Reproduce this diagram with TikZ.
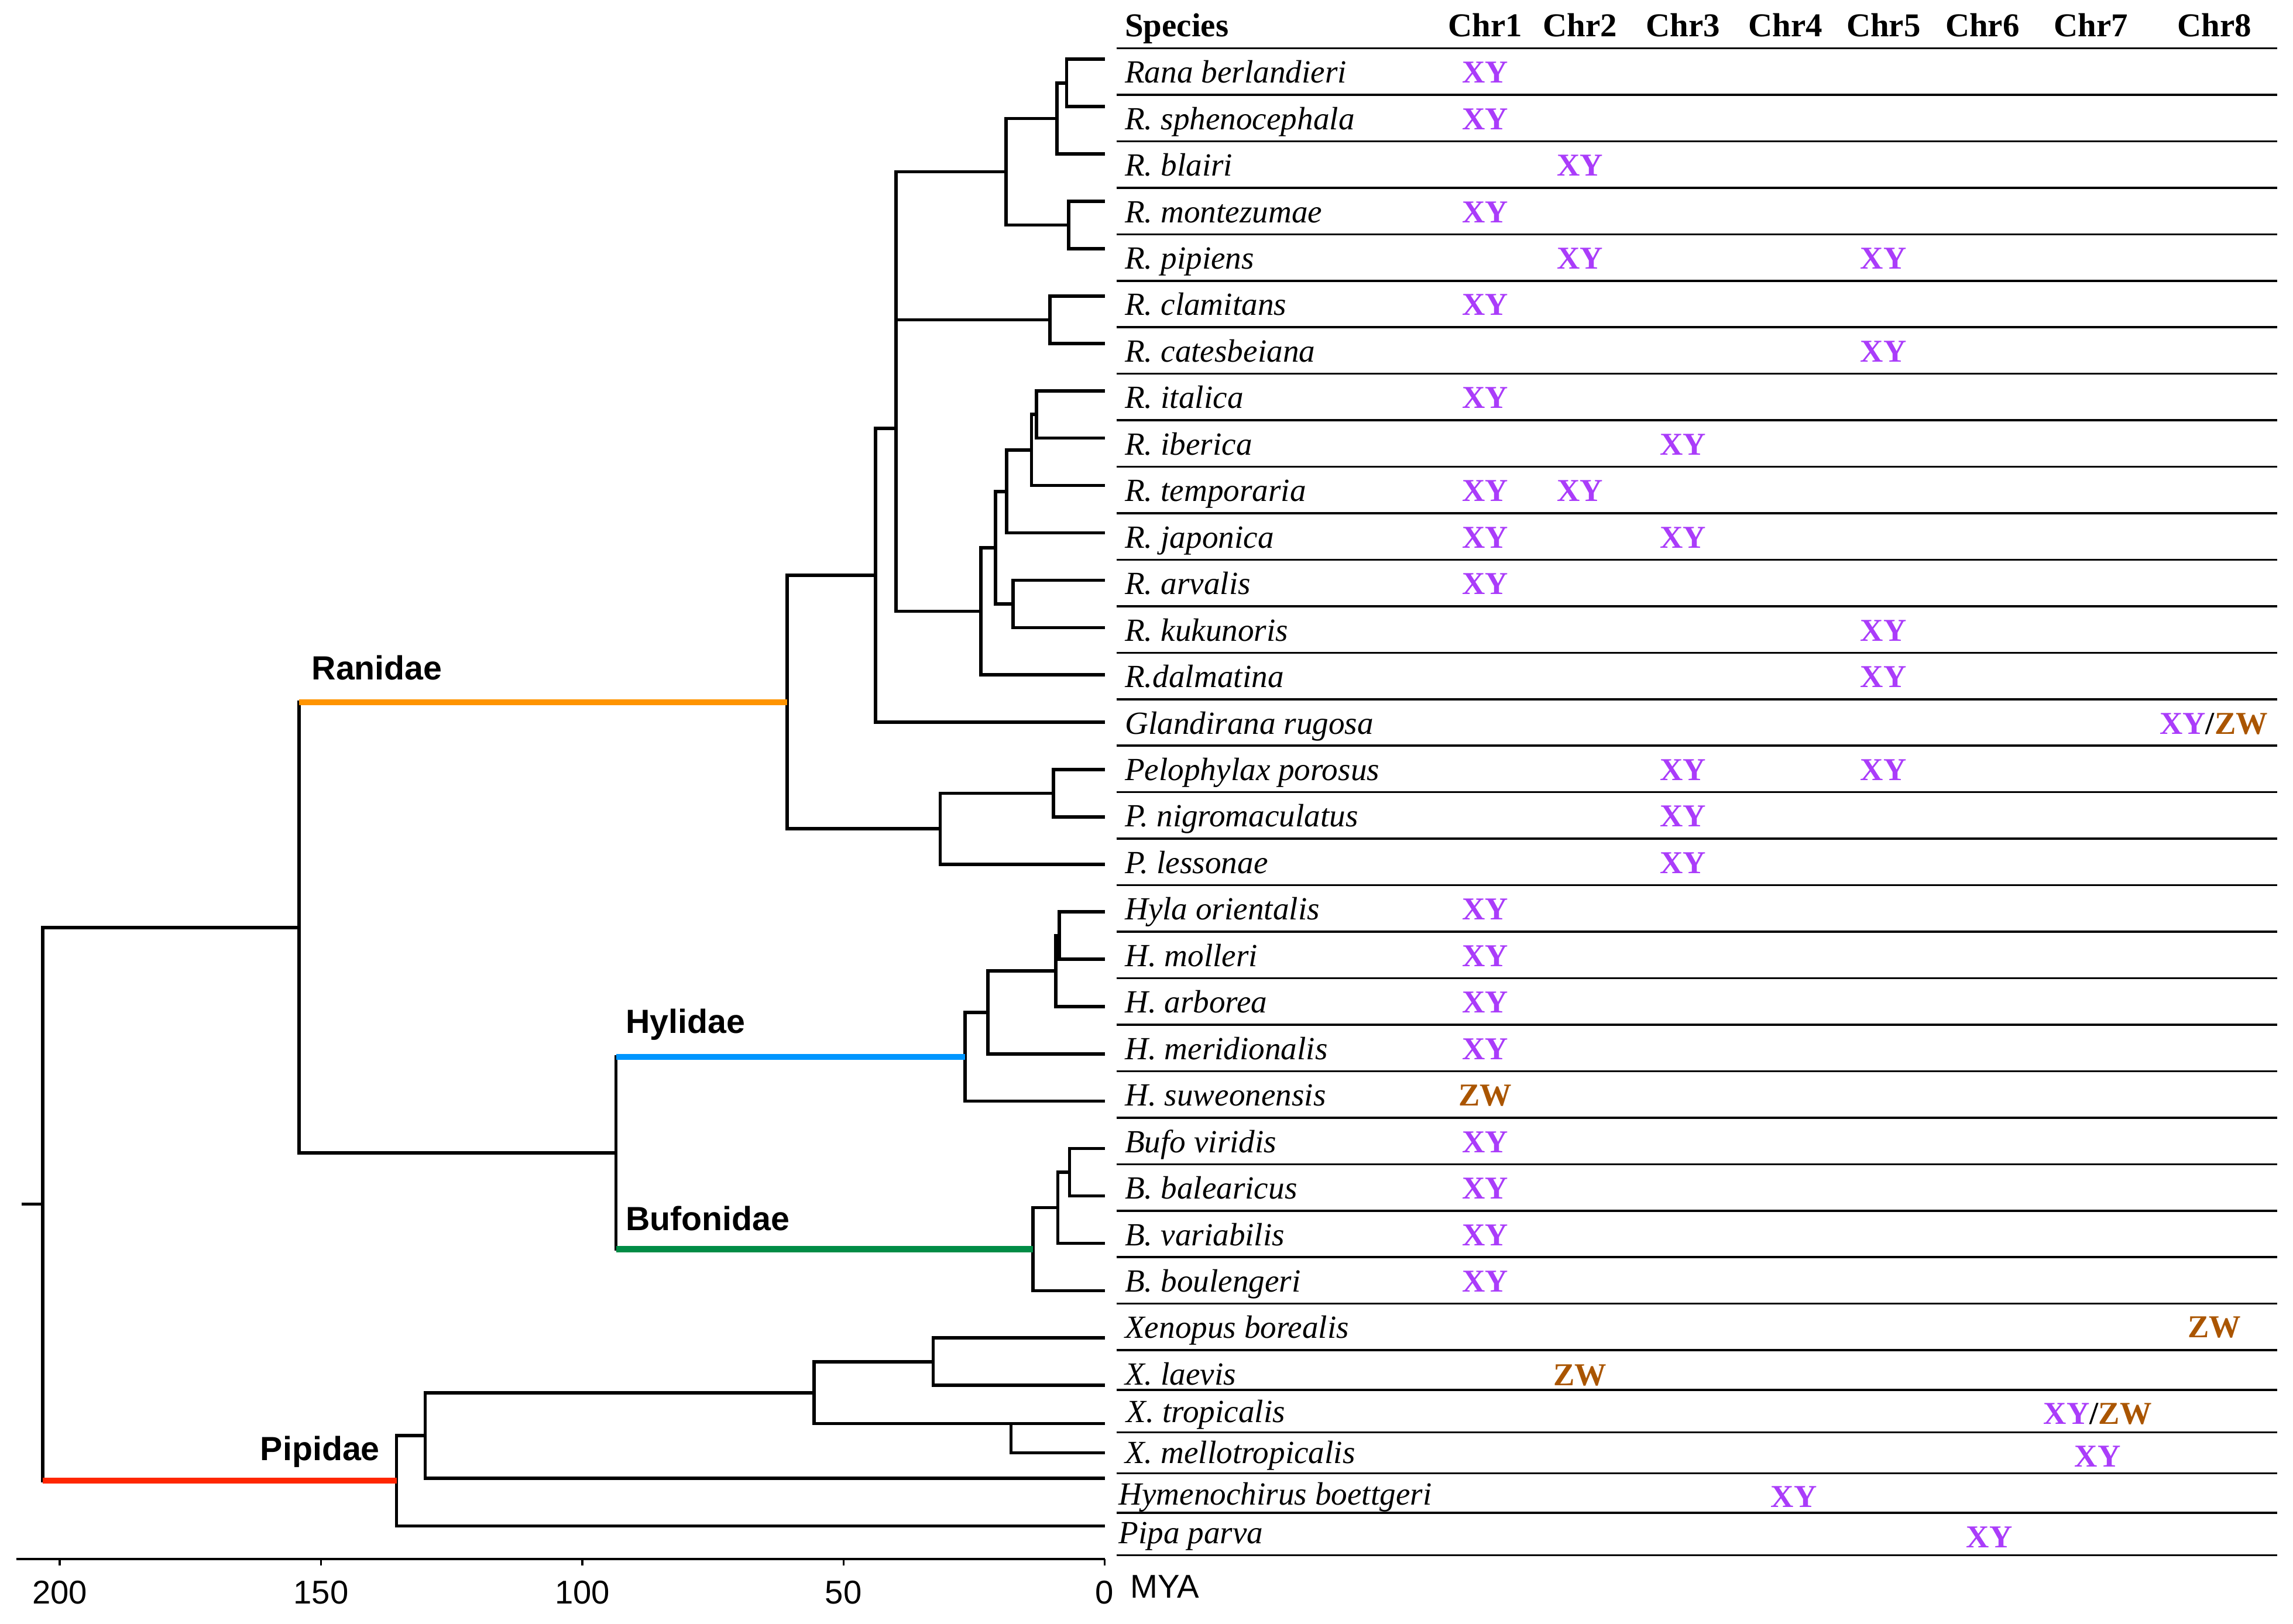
\documentclass[tikz,border=0pt]{standalone}
\usepackage{fontspec}
\setmainfont{Liberation Serif}
\setsansfont{Liberation Sans}
\definecolor{xyc}{RGB}{170,60,250}
\definecolor{zwc}{RGB}{170,85,0}
\definecolor{ranc}{RGB}{255,148,0}
\definecolor{hylc}{RGB}{0,150,255}
\definecolor{bufc}{RGB}{0,140,70}
\definecolor{pipc}{RGB}{255,38,0}
\begin{document}
\begin{tikzpicture}[x=0.025cm,y=-0.025cm,
  br/.style={line width=1.6pt,black},
  cb/.style={line width=2.9pt},
  tl/.style={line width=1pt,black},
  axl/.style={line width=1.3pt,black},
  sp/.style={font=\fontsize{15.7}{18}\selectfont\itshape,anchor=base west,inner sep=0pt},
  hd/.style={font=\fontsize{16.2}{18}\selectfont\bfseries,anchor=base,inner sep=0pt},
  xy/.style={font=\fontsize{15.5}{18}\selectfont\bfseries,text=xyc,anchor=base,inner sep=0pt},
  zw/.style={font=\fontsize{15.5}{18}\selectfont\bfseries,text=zwc,anchor=base,inner sep=0pt},
  xz/.style={font=\fontsize{15.5}{18}\selectfont\bfseries,anchor=base,inner sep=0pt},
  fam/.style={font=\sffamily\bfseries\fontsize{16.3}{18}\selectfont,anchor=base west,inner sep=0pt},
  axt/.style={font=\sffamily\fontsize{16}{18}\selectfont,anchor=base,inner sep=0pt}]
\useasboundingbox (0,0) rectangle (1567.2,1110);

% ---------- tips ----------
\foreach \i in {0,...,28} {\coordinate (t\i) at (755,{40.5+32.37*\i});}
\coordinate (t29) at (755,973);
\coordinate (t30) at (755,993);
\coordinate (t31) at (755,1010.5);
\coordinate (t32) at (755,1043);

% ---------- internal nodes ----------
\coordinate (A) at (729,56.7);
\coordinate (B) at (722.5,81);
\coordinate (C) at (730.5,153.8);
\coordinate (D) at (687.5,117.4);
\coordinate (E) at (717.5,218.6);
\coordinate (Fa) at (612.5,168);
\coordinate (L) at (708.5,283.3);
\coordinate (K) at (705,307.6);
\coordinate (J) at (688,335.9);
\coordinate (I) at (692.5,412.8);
\coordinate (H) at (680.5,374.3);
\coordinate (G) at (670.5,417.8);
\coordinate (Fb) at (612.5,292.9);
\coordinate (M) at (598.5,393.3);
\coordinate (Q) at (720,542.2);
\coordinate (P) at (642.6,566.5);
\coordinate (N) at (538,479.9);
\coordinate (Ha) at (724,639.4);
\coordinate (Hb) at (721.5,663.6);
\coordinate (Hc) at (675.3,692);
\coordinate (Hd) at (659.5,722.3);
\coordinate (Ba) at (731,801.2);
\coordinate (Bb) at (723,825.4);
\coordinate (Bc) at (706,853.8);
\coordinate (HB) at (421,788);
\coordinate (RHB) at (204.5,634);
\coordinate (Xa) at (637.8,930.7);
\coordinate (Xb) at (691,973);
\coordinate (Xc) at (556.5,951.9);
\coordinate (Xd) at (290.6,981.2);
\coordinate (Xe) at (271,1012.1);
\coordinate (root) at (29.2,823);
\coordinate (stub) at (14.6,823);

% ---------- branches ----------
\foreach \p/\c in {A/t0,A/t1,B/A,B/t2,C/t3,C/t4,D/B,D/C,E/t5,E/t6,Fa/D,Fa/E,
  L/t7,L/t8,K/L,K/t9,J/K,J/t10,I/t11,I/t12,H/J,H/I,G/H,G/t13,Fb/Fa,Fb/G,
  M/Fb,M/t14,Q/t15,Q/t16,P/Q,P/t17,N/M,N/P,
  Ha/t18,Ha/t19,Hb/Ha,Hb/t20,Hc/Hb,Hc/t21,Hd/Hc,Hd/t22,
  Ba/t23,Ba/t24,Bb/Ba,Bb/t25,Bc/Bb,Bc/t26,HB/Hd,HB/Bc,RHB/N,RHB/HB,
  Xa/t27,Xa/t28,Xb/t29,Xb/t30,Xc/Xa,Xc/Xb,Xd/Xc,Xd/t31,Xe/Xd,Xe/t32,
  root/RHB,root/Xe}
  {\draw[br] (\p) |- (\c);}
\draw[br] (stub) -- (root);
\draw[cb,ranc] (RHB |- N) -- (N);
\draw[cb,hylc] (HB |- Hd) -- (Hd);
\draw[cb,bufc] (HB |- Bc) -- (Bc);
\draw[cb,pipc] (root |- Xe) -- (Xe);

% ---------- family labels ----------
\node[fam] (ran) at (212.8,464.5) {Ranidae};
\node[fam] (hyl) at (427.5,706) {Hylidae};
\node[fam] (buf) at (427.5,840.8) {Bufonidae};
\node[fam] (pip) at (177.7,998) {Pipidae};

% ---------- axis ----------
\draw[axl] (11,1065.6) -- (755,1065.6);
\foreach \t/\x in {200/40.8,150/219.4,100/398,50/576.5,0/755} {
  \draw[line width=1pt] (\x,1065.6) -- (\x,1069.8);
  \node[axt] (ax\t) at (\x,1096) {\t};
}
\node[axt,anchor=base west] (mya) at (772.4,1092) {MYA};

% ---------- table lines ----------
\foreach \k in {0,...,28} {\draw[tl] (763,{33+31.78*\k}) -- (1556.5,{33+31.78*\k});}
\foreach \yy in {950,979,1007,1034,1063} {\draw[tl] (763,\yy) -- (1556.5,\yy);}

% ---------- header ----------
\node[hd,anchor=base west] (hsp) at (768.6,25) {Species};
\foreach \n/\x in {1/1015,2/1079.8,3/1150.2,4/1220.3,5/1287.3,6/1354.9,7/1429.2,8/1513.4}
  {\node[hd] (chr\n) at (\x,25) {Chr\n};}

% ---------- species ----------
\foreach \k/\nm in {0/Rana berlandieri,1/R. sphenocephala,2/R. blairi,3/R. montezumae,
  4/R. pipiens,5/R. clamitans,6/R. catesbeiana,7/R. italica,8/R. iberica,
  9/R. temporaria,10/R. japonica,11/R. arvalis,12/R. kukunoris,13/R.dalmatina,
  14/Glandirana rugosa,15/Pelophylax porosus,16/P. nigromaculatus,17/P. lessonae,
  18/Hyla orientalis,19/H. molleri,20/H. arborea,21/H. meridionalis,
  22/H. suweonensis,23/Bufo viridis,24/B. balearicus,25/B. variabilis,
  26/B. boulengeri,27/Xenopus borealis}
  {\node[sp] (s\k) at (768.6,{56.7+31.78*\k}) {\nm};}
\node[sp] (s28) at (768.6,946.4) {X. laevis};
\node[sp] (s29) at (769.7,972.2) {X. tropicalis};
\node[sp] (s30) at (768.6,1000.1) {X. mellotropicalis};
\node[sp] (s31) at (764.3,1028.5) {Hymenochirus boettgeri};
\node[sp] (s32) at (764.3,1055) {Pipa parva};

% ---------- sex chromosome systems ----------
\foreach \k/\x [count=\n] in {0/1015,1/1015,2/1079.8,3/1015,4/1079.8,4/1287.3,5/1015,
  6/1287.3,7/1015,8/1150.2,9/1015,9/1079.8,10/1015,10/1150.2,11/1015,12/1287.3,
  13/1287.3,15/1150.2,15/1287.3,16/1150.2,17/1150.2,18/1015,19/1015,20/1015,
  21/1015,23/1015,24/1015,25/1015,26/1015}
  {\node[xy] (xy\n) at (\x,{56.7+31.78*\k}) {XY};}
\node[zw] (zw1) at (1015,{56.7+31.78*22}) {ZW};
\node[zw] (zw2) at (1513.4,914.2) {ZW};
\node[zw] (zw3) at (1079.8,946.9) {ZW};
\node[xz] (xz1) at (1513,{56.7+31.78*14}) {\textcolor{xyc}{XY}/\textcolor{zwc}{ZW}};
\node[xz] (xz2) at (1433.7,973.4) {\textcolor{xyc}{XY}/\textcolor{zwc}{ZW}};
\node[xy] (xy30) at (1433.7,1002.7) {XY};
\node[xy] (xy31) at (1226,1030) {XY};
\node[xy] (xy32) at (1359.7,1057.8) {XY};
\end{tikzpicture}
\end{document}
